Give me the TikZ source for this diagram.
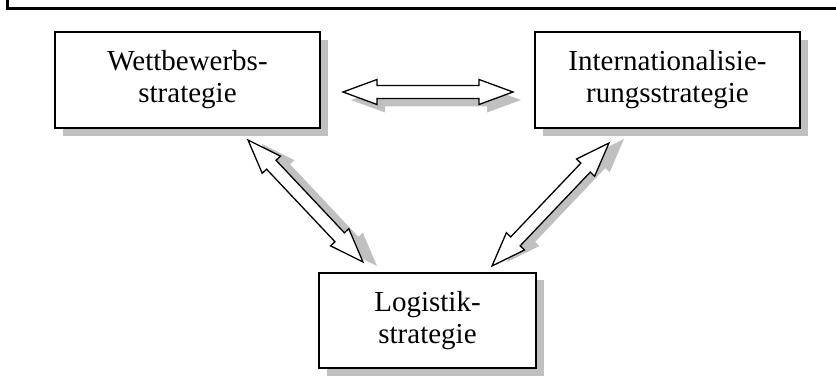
\documentclass[tikz,border=0pt]{standalone}
\usepackage{fontspec}
\setmainfont{Liberation Serif}
\usetikzlibrary{calc}
\definecolor{shadowgray}{RGB}{192,192,192}
\tikzset{
  stratbox/.style={draw=black, line width=1.4pt, fill=white, minimum width=#1, minimum height=96pt,
    align=center, inner sep=0pt, font=\fontsize{29}{32}\selectfont},
  boxshadow/.style={fill=shadowgray, draw=none, minimum width=#1, minimum height=96pt, inner sep=0pt},
  arrowbody/.style={draw=black, line width=1.3pt, fill=white, line join=miter},
  arrowshadow/.style={fill=shadowgray, draw=none},
  frameline/.style={line width=2.5pt}
}
\newcommand\blockarrow[3]{%
  \path[#3] let \p1=(#1), \p2=(#2),
    \n1={atan2(\y2-\y1,\x2-\x1)}, \n2={veclen(\x2-\x1,\y2-\y1)} in
    [shift={(\p1)}, rotate=\n1]
    (0,0) -- (34,12.5) -- (34,6.5) -- ({\n2-34},6.5) -- ({\n2-34},12.5) -- (\n2,0)
    -- ({\n2-34},-12.5) -- ({\n2-34},-6.5) -- (34,-6.5) -- (34,-12.5) -- cycle;}
\begin{document}
\begin{tikzpicture}[x=1pt,y=1pt]
\useasboundingbox (0,0) rectangle (836,388);
% frame (top and left edges visible)
\coordinate (fa) at (7.5,388);
\coordinate (fb) at (7.5,379.5);
\coordinate (fc) at (836,379.5);
\draw[frameline] (fa) -- (fb) -- (fc);
% box shadows
\node[boxshadow=265pt] at (195.5,300) {};
\node[boxshadow=265pt] at (675.5,300) {};
\node[boxshadow=217pt] at (435.5,59.5) {};
% arrow end points
\coordinate (hl) at (343,296);
\coordinate (hr) at (513,296);
\coordinate (la) at (248,248);
\coordinate (lb) at (363,126);
\coordinate (ra) at (609,245);
\coordinate (rb) at (492,122);
% arrow shadows
\blockarrow{$(hl)+(8,-8)$}{$(hr)+(8,-8)$}{arrowshadow}
\blockarrow{$(la)+(14,-4)$}{$(lb)+(14,-4)$}{arrowshadow}
\blockarrow{$(rb)+(15,4)$}{$(ra)+(15,4)$}{arrowshadow}
% boxes
\node[stratbox=265pt] (w) at (187.5,308) {Wettbewerbs-\\strategie};
\node[stratbox=265pt] (i) at (667.5,308) {Internationalisie-\\rungsstrategie};
\node[stratbox=217pt, minimum height=95pt] (l) at (427.5,67.5) {Logistik-\\strategie};
% arrows
\blockarrow{hl}{hr}{arrowbody}
\blockarrow{la}{lb}{arrowbody}
\blockarrow{rb}{ra}{arrowbody}
\end{tikzpicture}
\end{document}
